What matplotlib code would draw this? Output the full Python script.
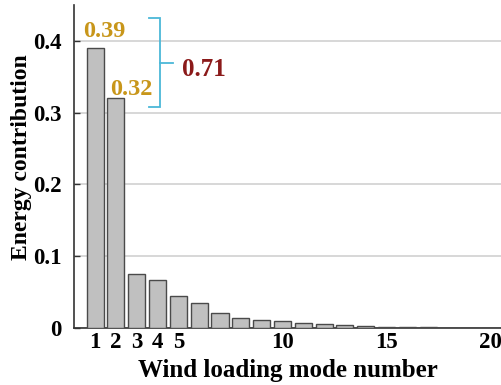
import numpy as np
import matplotlib
matplotlib.use("Agg")
import matplotlib.pyplot as plt

plt.rcParams["font.family"] = ["Liberation Serif", "DejaVu Serif"]
plt.rcParams["font.weight"] = "bold"

# energy share of each wind loading mode
modes = np.arange(1, 21)
energy = [0.39, 0.32, 0.075, 0.067, 0.044, 0.035, 0.0215, 0.014, 0.011, 0.0094,
          0.0066, 0.0052, 0.0038, 0.0028, 0.0019, 0.0015, 0.001, 0.0, 0.0, 0.0]
xticks = [1, 2, 3, 4, 5, 10, 15, 20]
yticks = [0, 0.1, 0.2, 0.3, 0.4]

fig = plt.figure(figsize=(5.02, 3.85), dpi=100)
ax = fig.add_axes([0.148, 0.148, 0.852, 0.839])

ax.bar(modes, energy, width=0.82, color="#c0c0c0", edgecolor="#4a4a4a",
       linewidth=1.0, zorder=3)

ax.set_xlim(0, 20.55)
ax.set_ylim(0, 0.45)
ax.set_xticks(xticks)
ax.set_yticks(yticks)
ax.set_yticklabels(["0", "0.1", "0.2", "0.3", "0.4"])
ax.grid(axis="y", color="#d4d4d4", linewidth=1.3, zorder=0)
ax.tick_params(axis="both", direction="in", labelsize=16.5, length=4, width=1.0,
               color="#333333")
ax.tick_params(axis="y", pad=9)
ax.tick_params(axis="x", pad=3, length=0)
for lbl in ax.get_xticklabels() + ax.get_yticklabels():
    lbl.set_fontweight("bold")

for side in ["top", "right"]:
    ax.spines[side].set_visible(False)
for side in ["left", "bottom"]:
    ax.spines[side].set_linewidth(1.2)
    ax.spines[side].set_color("#333333")

ax.set_xlabel("Wind loading mode number", fontsize=18, fontweight="bold", labelpad=4)
ax.set_ylabel("Energy contribution", fontsize=17, fontweight="bold")
ax.yaxis.set_label_coords(-0.099, 0.53)

# values of the two leading modes
gold = "#c8961a"
ax.text(1.42, energy[0] + 0.023, f"{energy[0]:.2f}", color=gold, fontsize=17.5,
        fontweight="bold", ha="center", va="center", zorder=4)
ax.text(2.76, energy[1] + 0.012, f"{energy[1]:.2f}", color=gold, fontsize=17.5,
        fontweight="bold", ha="center", va="center", zorder=4)

# bracket grouping modes 1 and 2
cyan = "#4bb8d8"
top, bot = 0.432, 0.3076
mid = (top + bot) / 2
ax.plot([3.58, 4.11, 4.11, 3.58], [top, top, bot, bot], color=cyan, lw=1.3,
        solid_joinstyle="miter", zorder=4)
ax.plot([4.11, 4.74], [mid, mid], color=cyan, lw=1.3, zorder=4)
ax.text(6.23, mid - 0.01, f"{energy[0] + energy[1]:.2f}", color="#8b1a1a",
        fontsize=18, fontweight="bold", ha="center", va="center", zorder=4)

fig.savefig("out.png", dpi=100)
